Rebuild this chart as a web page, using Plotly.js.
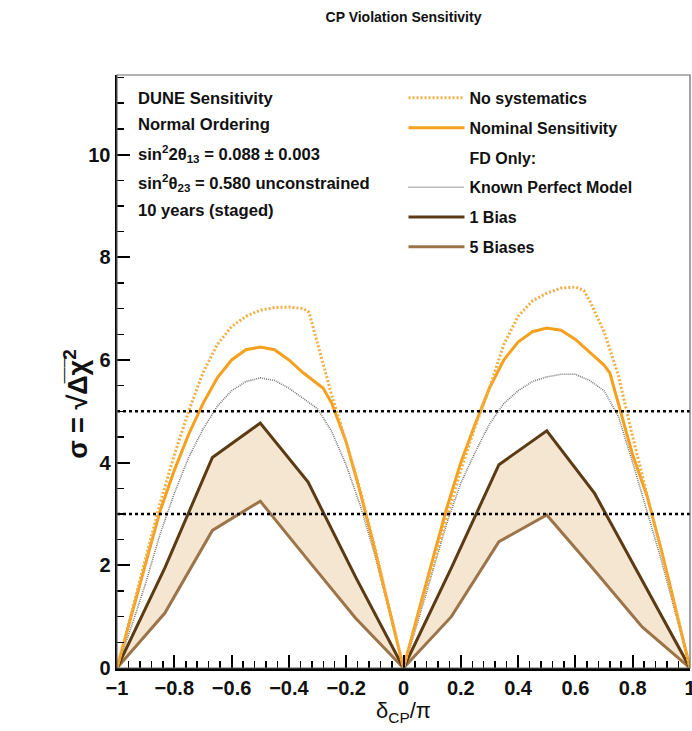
<!DOCTYPE html>
<html>
<head>
<meta charset="utf-8">
<script src="https://cdn.plot.ly/plotly-3.0.1.min.js"></script>
<style>html,body{margin:0;padding:0;background:#fff;}#chart{width:692px;height:731px;}</style>
</head>
<body>
<div id="chart"></div>
<script>
// ---- data (delta_CP / pi, sigma) ----
const noSystX = [-1,-0.95,-0.9,-0.85,-0.8,-0.75,-0.7,-0.65,-0.6,-0.55,-0.5,-0.45,-0.4,-0.35,-0.33,-0.3,-0.25,-0.2,-0.15,-0.1,-0.05,0,
                 0.05,0.1,0.15,0.2,0.25,0.3,0.35,0.4,0.45,0.5,0.55,0.6,0.63,0.65,0.7,0.75,0.8,0.85,0.9,0.95,1];
const noSystY = [0,1.05,2.1,3.2,4.15,5.0,5.75,6.3,6.65,6.85,6.97,7.02,7.03,7.0,6.93,6.3,5.3,4.4,3.45,2.35,1.2,0,
                 1.0,1.95,2.95,3.85,4.7,5.45,6.3,6.85,7.15,7.3,7.4,7.42,7.35,7.15,6.55,5.7,4.5,3.4,2.3,1.15,0];

const nominalX = [-1,-0.95,-0.9,-0.85,-0.8,-0.75,-0.7,-0.65,-0.6,-0.55,-0.5,-0.45,-0.4,-0.35,-0.28,-0.25,-0.2,-0.15,-0.1,-0.05,0,
                  0.05,0.1,0.15,0.2,0.25,0.3,0.35,0.4,0.45,0.5,0.55,0.6,0.65,0.7,0.72,0.75,0.8,0.85,0.9,0.95,1];
const nominalY = [0,1.0,2.0,3.05,3.85,4.55,5.15,5.65,6.0,6.2,6.25,6.2,6.0,5.75,5.45,5.15,4.4,3.4,2.3,1.15,0,
                  1.05,2.1,3.1,4.0,4.75,5.45,6.0,6.35,6.55,6.62,6.58,6.4,6.15,5.9,5.75,5.15,4.15,3.35,2.3,1.15,0];

const kpmX = [-1,-0.95,-0.9,-0.85,-0.8,-0.75,-0.7,-0.65,-0.6,-0.55,-0.5,-0.45,-0.4,-0.35,-0.3,-0.25,-0.2,-0.15,-0.1,-0.05,0,
              0.05,0.1,0.15,0.2,0.25,0.3,0.35,0.4,0.45,0.5,0.55,0.6,0.65,0.7,0.75,0.8,0.85,0.9,0.95,1];
const kpmY = [0,0.8,1.65,2.6,3.4,4.1,4.65,5.1,5.4,5.58,5.65,5.6,5.45,5.25,5.05,4.6,3.95,3.15,2.2,1.1,0,
              0.9,1.85,2.8,3.6,4.2,4.75,5.15,5.4,5.58,5.67,5.72,5.72,5.6,5.4,4.9,4.0,3.05,2.1,1.05,0];

const biasX = [-1,-0.833,-0.667,-0.5,-0.333,-0.167,0,0.167,0.333,0.5,0.667,0.833,1];
const oneBiasY = [0,1.95,4.1,4.77,3.62,1.77,0,1.95,3.96,4.62,3.4,1.69,0];
const fiveBiasY = [0,1.07,2.68,3.25,2.1,0.97,0,1.0,2.46,2.98,1.9,0.8,0];

const sigmaLevels = [3, 5];

const infoLines = [
  "DUNE Sensitivity",
  "Normal Ordering",
  "sin<sup>2</sup>2θ<sub>13</sub> = 0.088 ± 0.003",
  "sin<sup>2</sup>θ<sub>23</sub> = 0.580 unconstrained",
  "10 years (staged)"
];
const legendNames = ["No systematics","Nominal Sensitivity","FD Only:","Known Perfect Model","1 Bias","5 Biases"];

const xTickVals = [-1,-0.8,-0.6,-0.4,-0.2,0,0.2,0.4,0.6,0.8,1];
const xTickText = ["\u22121","\u22120.8","\u22120.6","\u22120.4","\u22120.2","0","0.2","0.4","0.6","0.8","1"];
const yTickVals = [0,2,4,6,8,10];
const yTickText = ["0","2","4","6","8","10"];

// ---- styles ----
const FONT = "Liberation Sans, Arial, Helvetica, sans-serif";
const cNoSyst = "#F2AE45";
const cNominal = "#F5A01E";
const cKPM = "#7a7a7a";
const cOne = "#5C3B14";
const cFive = "#9C7449";
const cFill = "rgba(238,214,178,0.6)";

const traces = [
  { // band between 1 Bias and 5 Biases
    x: biasX.concat(biasX.slice().reverse()),
    y: oneBiasY.concat(fiveBiasY.slice().reverse()),
    mode: "lines", fill: "toself", fillcolor: cFill,
    line: {width: 0}, showlegend: false, hoverinfo: "skip"
  },
  {x: kpmX, y: kpmY, mode: "lines", name: "<b>" + legendNames[3] + "</b>", legendrank: 4, legendgroup: "g4",
   line: {color: cKPM, width: 1.6, dash: "1px,1px"}},
  {x: biasX, y: fiveBiasY, mode: "lines", name: "<b>" + legendNames[5] + "</b>", legendrank: 6, legendgroup: "g6",
   line: {color: cFive, width: 3}},
  {x: biasX, y: oneBiasY, mode: "lines", name: "<b>" + legendNames[4] + "</b>", legendrank: 5, legendgroup: "g5",
   line: {color: cOne, width: 3}},
  {x: nominalX, y: nominalY, mode: "lines", name: "<b>" + legendNames[1] + "</b>", legendrank: 2, legendgroup: "g2",
   line: {color: cNominal, width: 3}},
  {x: noSystX, y: noSystY, mode: "lines", name: "<b>" + legendNames[0] + "</b>", legendrank: 1, legendgroup: "g1",
   line: {color: cNoSyst, width: 3, dash: "2px,2px"}},
  {x: [null], y: [null], mode: "lines", name: "<b>" + legendNames[2] + "</b>", legendrank: 3, legendgroup: "g3",
   line: {color: "rgba(0,0,0,0)", width: 0}}
];

const shapes = sigmaLevels.map(v => ({
  type: "line", xref: "x", yref: "y", x0: -1, x1: 1, y0: v, y1: v,
  line: {color: "#000", width: 2.5, dash: "3px,3px"}, layer: "above"
}));
shapes.push({type: "rect", xref: "paper", yref: "paper", x0: 0, x1: 1, y0: 0, y1: 1,
  line: {color: "#666", width: 1.2}, layer: "above"});

const infoY = [0.961, 0.917, 0.868, 0.818, 0.771];
const annotations = infoLines.map((t, i) => ({
  text: "<b>" + t + "</b>", xref: "paper", yref: "paper", x: 0.033, y: infoY[i],
  xanchor: "left", yanchor: "middle", showarrow: false,
  font: {family: FONT, size: 16.6, color: "#111"}
}));
// y-axis title, placed like the reference
annotations.push({
  text: "<b>σ = √Δ̅χ̅<sup>2</sup></b>", xref: "paper", yref: "paper",
  x: -0.072, y: 0.445, xanchor: "center", yanchor: "middle", textangle: -90, showarrow: false,
  font: {family: FONT, size: 27, color: "#111"}
});

const layout = {
  width: 692, height: 731,
  margin: {l: 117, r: 2, t: 75, b: 63},
  paper_bgcolor: "#fff", plot_bgcolor: "#fff",
  title: {text: "<b>CP Violation Sensitivity</b>", x: 0.5, xref: "paper", y: 0.977, yanchor: "middle",
          font: {family: FONT, size: 14, color: "#111"}},
  xaxis: {
    range: [-1, 1], showgrid: false, zeroline: false,
    tickmode: "array", tickvals: xTickVals, ticktext: xTickText.map(t => "<b>" + t + "</b>"),
    ticks: "inside", ticklen: 13, tickwidth: 2, tickcolor: "#000",
    showline: true, linecolor: "#000", linewidth: 2.5, ticklabeloverflow: "allow",
    minor: {dtick: 0.04, ticks: "inside", ticklen: 7, tickwidth: 1.5, tickcolor: "#000", showgrid: false},
    tickfont: {family: FONT, size: 20, color: "#111"},
    title: {text: "δ<sub>CP</sub>/π", font: {family: FONT, size: 22, color: "#111"}, standoff: 2}
  },
  yaxis: {
    range: [0, 11.55], showgrid: false, zeroline: false,
    tickmode: "array", tickvals: yTickVals, ticktext: yTickText.map(t => "<b>" + t + "</b>"),
    ticks: "inside", ticklen: 13, tickwidth: 2, tickcolor: "#000",
    showline: true, linecolor: "#000", linewidth: 2.5,
    minor: {dtick: 0.5, ticks: "inside", ticklen: 7, tickwidth: 1.5, tickcolor: "#000", showgrid: false},
    tickfont: {family: FONT, size: 20, color: "#111"}
  },
  showlegend: true,
  legend: {
    x: 0.5, y: 0.99, xanchor: "left", yanchor: "top",
    bgcolor: "rgba(0,0,0,0)", borderwidth: 0,
    traceorder: "grouped", tracegroupgap: 6, itemwidth: 56,
    font: {family: FONT, size: 16, color: "#111"}
  },
  shapes: shapes,
  annotations: annotations
};

Plotly.newPlot("chart", traces, layout, {staticPlot: true, displayModeBar: false});
</script>
</body>
</html>
